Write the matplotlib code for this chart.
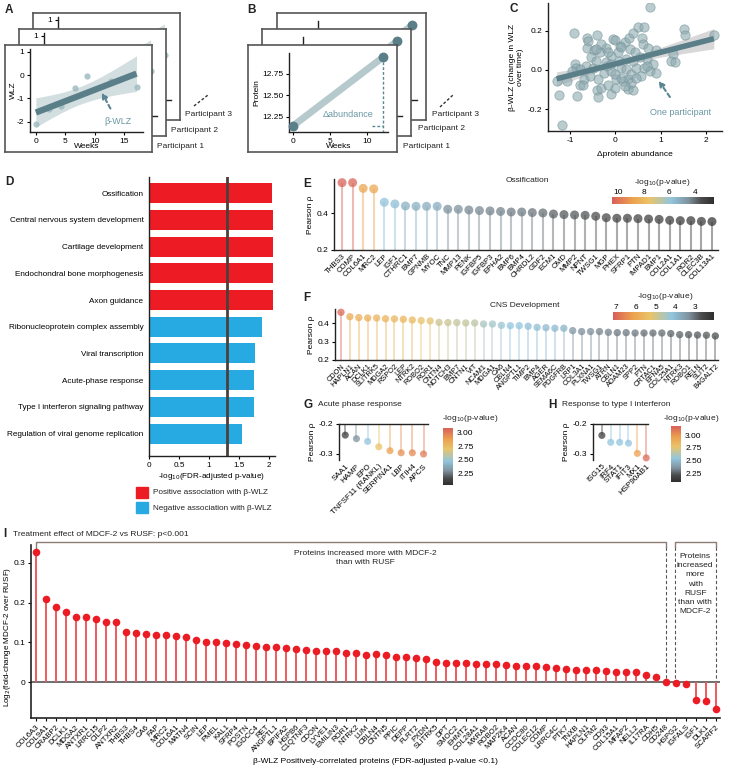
import numpy as np
import matplotlib
matplotlib.use('Agg')
import matplotlib.pyplot as plt
from matplotlib.colors import LinearSegmentedColormap, Normalize
from matplotlib.lines import Line2D
from matplotlib.patches import Rectangle
import matplotlib.cm as cm

plt.rcParams['font.family'] = ['Liberation Sans', 'DejaVu Sans']
plt.rcParams['axes.unicode_minus'] = False
plt.rcParams['font.size'] = 6
plt.rcParams['axes.linewidth'] = 1.0
plt.rcParams['axes.edgecolor'] = '#222222'
plt.rcParams['xtick.major.size'] = 2.5
plt.rcParams['ytick.major.size'] = 2.5
plt.rcParams['xtick.major.pad'] = 1.5
plt.rcParams['ytick.major.pad'] = 1.5
plt.rcParams['text.color'] = '#222222'

# ---------------- data ----------------
A_weeks = [0, 2.3, 4.3, 6.6, 8.7, 12.8, 17.1]
A_wlz = [-2.07, -1.45, -1.3, -0.57, -0.03, -0.25, -0.5]

B_weeks = [0, 12.2]
B_protein = [12.145, 12.945]

C_dprot = [0.77, -0.91, -0.41, -0.63, -0.60, -0.63, -0.47, -0.35, -0.20, -0.05,
           -0.01, 0.10, 0.21, 0.30, 0.40, 0.50, 0.63, 0.59, 0.61, 0.72,
           0.89, 1.53, 1.55, 2.18, 1.27, 1.24, 1.33, -1.30, -1.25, -1.17,
           -1.08, -0.90, -0.86, -0.85, -0.79, -0.70, -0.64, -0.53, -0.42, -0.38,
           -0.41, -0.38, -0.31, -0.26, -0.18, -0.09, -0.10, 0.00, 0.02, 0.08,
           0.13, 0.17, 0.24, 0.28, 0.27, 0.35, 0.40, 0.35, 0.46, 0.54,
           0.63, 0.69, 0.76, 0.91, 0.83, 0.06, -0.09, -0.16, 0.13, 0.32,
           0.43, -0.49, -0.57, -0.72, -0.79, -0.97, -0.21, -0.09, 0.13, 0.21,
           0.57, 0.69, -0.31, -0.42, 0.24, 0.39, -0.16, -0.01, 0.46]
C_bwlz = [0.32, 0.19, 0.18, 0.16, 0.145, 0.11, 0.10, 0.09, 0.11, 0.155,
          0.15, 0.124, 0.14, 0.16, 0.19, 0.22, 0.217, 0.16, 0.13, 0.11,
          0.10, 0.21, 0.18, 0.18, 0.08, 0.047, 0.038, -0.057, -0.126, -0.28,
          -0.057, 0.03, 0.012, -0.134, -0.074, -0.048, 0.02, 0.064, 0.047, -0.048,
          -0.10, -0.138, -0.091, -0.017, 0.02, -0.005, -0.12, -0.09, -0.045, 0.047,
          0.012, -0.057, 0.003, -0.048, -0.097, -0.022, -0.10, -0.066, 0.012, 0.064,
          0.012, 0.055, -0.005, -0.014, 0.03, 0.09, 0.072, 0.09, 0.115, 0.107,
          0.09, 0.012, -0.031, -0.074, 0.003, -0.005, 0.038, 0.03, -0.04, -0.083,
          -0.031, 0.02, 0.133, 0.107, 0.055, 0.047, -0.074, -0.022, -0.04]
C_fit_slope = 0.0586
C_fit_intercept = 0.031

D_terms = ['Ossification', 'Central nervous system development', 'Cartilage development',
           'Endochondral bone morphogenesis', 'Axon guidance',
           'Ribonucleoprotein complex assembly', 'Viral transcription',
           'Acute-phase response', 'Type I interferon signaling pathway',
           'Regulation of viral genome replication']
D_values = [2.055, 2.066, 2.066, 2.066, 2.066, 1.884, 1.768, 1.75, 1.746, 1.558]
D_positive = [True, True, True, True, True, False, False, False, False, False]
D_threshold = 1.301

E_genes = ['THBS3', 'COMP', 'COL6A1', 'MRC2', 'LEP', 'IGF1', 'CTHRC1', 'BMP7', 'GPNMB', 'MYOC',
           'TNC', 'MMP13', 'PENK', 'IGFBP5', 'IGFBP3', 'EPHA2', 'BMP6', 'BMP4', 'CHRDL2', 'GDF2',
           'ECM1', 'OMD', 'MMP2', 'NPNT', 'TWSG1', 'MGP', 'PHEX', 'SFRP1', 'PTN', 'IMPAD1',
           'BMP1', 'COL2A1', 'COL1A1', 'ROR2', 'CLEC3B', 'COL13A1']
E_rho = [0.567, 0.567, 0.536, 0.533, 0.460, 0.451, 0.440, 0.438, 0.438, 0.438,
         0.422, 0.422, 0.418, 0.415, 0.413, 0.410, 0.407, 0.407, 0.404, 0.402,
         0.396, 0.393, 0.391, 0.389, 0.384, 0.376, 0.373, 0.373, 0.371, 0.369,
         0.367, 0.362, 0.360, 0.360, 0.356, 0.355]
E_logp = [10.4, 10.3, 8.7, 8.6, 5.8, 5.7, 5.3, 5.3, 5.2, 5.2,
          4.5, 4.5, 4.4, 4.4, 4.3, 4.3, 4.2, 4.2, 4.1, 4.0,
          3.8, 3.7, 3.7, 3.6, 3.5, 3.4, 3.3, 3.3, 3.3, 3.2,
          3.2, 3.1, 3.0, 3.0, 3.0, 2.9]

F_genes = ['CDON', 'HAPLN1', 'ACAN', 'DCLK1', 'SLITRK5', 'MDGA2', 'RSPO2', 'LEP', 'NTRK2', 'ROBO2',
           'ROR1', 'CNTN4', 'NOTCH3', 'BMP7', 'CNTN1', 'VIT', 'NCAM1', 'MDGA1', 'CA6', 'CBLN4',
           'ANGPTL1', 'TIMP2', 'BMP4', 'AGER', 'SEMA6C', 'PDGFRB', 'LRP1', 'COL3A1', 'PLXNA1', 'TWSG1',
           'ATRN', 'CBLN1', 'ADAM23', 'SPP2', 'PTN', 'CRTAC1', 'EFNA5', 'COL25A1', 'NTRK3', 'ROBO1',
           'RELN', 'SLIT2', 'B4GALT2']
F_rho = [0.460, 0.436, 0.431, 0.429, 0.429, 0.425, 0.424, 0.422, 0.418, 0.415,
         0.413, 0.405, 0.404, 0.404, 0.402, 0.402, 0.396, 0.396, 0.389, 0.387,
         0.387, 0.384, 0.378, 0.376, 0.373, 0.373, 0.360, 0.355, 0.355, 0.355,
         0.351, 0.349, 0.349, 0.347, 0.347, 0.347, 0.347, 0.344, 0.338, 0.338,
         0.336, 0.335, 0.331]
F_logp = [7.0, 5.9, 5.8, 5.8, 5.7, 5.7, 5.6, 5.6, 5.5, 5.3,
          5.2, 4.9, 4.9, 4.8, 4.8, 4.7, 4.5, 4.4, 4.3, 4.2,
          4.2, 4.1, 4.1, 4.0, 4.0, 3.9, 3.4, 3.3, 3.3, 3.2,
          3.2, 3.1, 3.1, 3.1, 3.0, 3.0, 3.0, 2.9, 2.9, 2.8,
          2.8, 2.8, 2.7]

G_genes = ['SAA1', 'HAMP', 'EPO', 'TNFSF11 (RANKL)', 'SERPINA1', 'LBP', 'ITIH4', 'APCS']
G_rho = [-0.237, -0.249, -0.258, -0.276, -0.289, -0.296, -0.296, -0.300]
G_logp = [2.10, 2.30, 2.47, 2.70, 2.88, 2.93, 2.95, 3.00]

H_genes = ['ISG15', 'IRF4', 'STAT1', 'IFIT3', 'MX1', 'HSP90AB1']
H_rho = [-0.238, -0.261, -0.261, -0.264, -0.298, -0.313]
H_logp = [2.15, 2.54, 2.54, 2.54, 2.97, 3.15]

I_genes = ['COL6A3', 'COL9A1', 'CRABP2', 'DCLK1', 'MDGA2', 'ANTXR1', 'LRRC15', 'CILP2', 'ANTXR2', 'THBS3',
           'THBS4', 'CA6', 'FAP', 'MRC2', 'COL6A1', 'MATN4', 'SCIN', 'LEP', 'PMEL', 'KAL1',
           'SFRP4', 'POSTN', 'IGDCC4', 'RET', 'ANGPTL1', 'BPIFA2', 'HSPB6', 'C1QTNF3', 'CDON', 'LYVE1',
           'EMILIN3', 'ROR1', 'NTRK2', 'LUM', 'CBLN4', 'CNTN5', 'PPIC', 'DEPP', 'FLRT2', 'PXDN',
           'SLITRK5', 'DPT', 'SMOC2', 'EHMT2', 'COL28A1', 'MXRA8', 'ROBO2', 'MAP2K4', 'ACAN', 'CCDC80',
           'COLEC12', 'COMP', 'LRRC4C', 'PTK7', 'TNXB', 'HAPLN1', 'OLFM2', 'CD93', 'COL15A1', 'MFAP2',
           'NELL2', 'IL17RA', 'CDH5', 'CD248', 'HSPG2', 'IGFALS', 'IGF1', 'DLK1', 'SCARF2']
I_lfc = [0.326, 0.208, 0.189, 0.177, 0.165, 0.164, 0.159, 0.152, 0.152, 0.125,
         0.124, 0.120, 0.118, 0.118, 0.115, 0.113, 0.105, 0.101, 0.100, 0.099,
         0.097, 0.094, 0.091, 0.089, 0.088, 0.086, 0.083, 0.080, 0.079, 0.078,
         0.078, 0.074, 0.074, 0.069, 0.070, 0.068, 0.063, 0.063, 0.062, 0.058,
         0.050, 0.048, 0.048, 0.048, 0.047, 0.046, 0.046, 0.043, 0.042, 0.041,
         0.040, 0.038, 0.036, 0.034, 0.032, 0.032, 0.030, 0.029, 0.026, 0.026,
         0.026, 0.018, 0.013, 0.002, -0.002, -0.005, -0.044, -0.047, -0.066]
I_n_mdcf = 64  # first group: proteins increased more with MDCF-2

# ---------------- figure helpers ----------------
W, H = 739, 768
fig = plt.figure(figsize=(W / 100, H / 100), dpi=100)


def pax(x0, y0, x1, y1, **kw):
    return fig.add_axes([x0 / W, 1 - y1 / H, (x1 - x0) / W, (y1 - y0) / H], **kw)


def ftext(x, y, s, **kw):
    kw.setdefault('va', 'center')
    return fig.text(x / W, 1 - y / H, s, **kw)


def fline(x0, y0, x1, y1, **kw):
    fig.add_artist(Line2D([x0 / W, x1 / W], [1 - y0 / H, 1 - y1 / H], transform=fig.transFigure, **kw))


def clean(ax, left=True, bottom=True, top=False, right=False):
    ax.spines['left'].set_visible(left)
    ax.spines['bottom'].set_visible(bottom)
    ax.spines['top'].set_visible(top)
    ax.spines['right'].set_visible(right)


TEAL = '#5a7f89'
TEAL_TXT = '#6a97a3'
LETTER = dict(fontsize=8.5, fontweight='bold')

cmap = LinearSegmentedColormap.from_list('pv', [(0, '#2f2f2f'), (0.12, '#4a4a4a'), (0.25, '#7f929e'),
                                                (0.42, '#92c5de'), (0.63, '#e9c46a'), (0.8, '#eca24f'),
                                                (1.0, '#d95f5a')])


def frame(x0, y0, x1, y1):
    f = pax(x0, y0, x1, y1)
    f.set_xticks([])
    f.set_yticks([])
    f.set_facecolor('white')
    for sp in f.spines.values():
        sp.set_color('#555555')
        sp.set_linewidth(1.2)
    return f


# ---------------- Panel A ----------------
def draw_A(ax, annotate):
    xw = np.asarray(A_weeks)
    yw = np.asarray(A_wlz)
    slope, icpt = np.polyfit(xw, yw, 1)
    xs = np.linspace(xw.min(), xw.max(), 60)
    yfit = slope * xs + icpt
    resid = yw - (slope * xw + icpt)
    s = np.sqrt(np.sum(resid ** 2) / (len(xw) - 2))
    sxx = np.sum((xw - xw.mean()) ** 2)
    hw = 2.0 * s * np.sqrt(1 / len(xw) + (xs - xw.mean()) ** 2 / sxx)
    ax.fill_between(xs, yfit - hw, yfit + hw, color='#d3dee1', lw=0, zorder=1)
    ax.scatter(xw, yw, s=20, color='#9fbcc0', alpha=0.85, lw=0, zorder=3)
    ax.plot(xs, yfit, color=TEAL, lw=4.5, solid_capstyle='butt', zorder=4)
    ax.set_xlim(-1.0, 18.2)
    ax.set_ylim(-2.43, 1.11)
    ax.set_xticks([0, 5, 10, 15])
    ax.set_yticks([-2, -1, 0, 1])
    ax.set_facecolor('none')
    clean(ax)
    ax.set_xlabel('Weeks', labelpad=-1, fontsize=6)
    ax.set_ylabel('WLZ', labelpad=0, fontsize=6)
    ax.tick_params(labelsize=6)
    if annotate:
        ax.annotate('β-WLZ', xy=(11.2, -0.75), xytext=(13.9, -2.0), ha='center', va='center',
                    color=TEAL_TXT, fontsize=6.5,
                    arrowprops=dict(arrowstyle='-|>', ls=(0, (2, 1.5)), color='#5a8592', lw=1.5,
                                    shrinkA=5, shrinkB=0, mutation_scale=8))


for k in (2, 1, 0):
    dx, dy = 14 * k, -16 * k
    frame(5 + dx, 45 + dy, 152 + dx, 152 + dy)
    ai = pax(30 + dx, 49 + dy, 143 + dx, 132 + dy)
    draw_A(ai, annotate=(k == 0))

ftext(5, 10, 'A', **LETTER)
ftext(157, 146, 'Participant 1', fontsize=6)
ftext(171, 130, 'Participant 2', fontsize=6)
ftext(185, 115, 'Participant 3', fontsize=6)
fline(194, 106, 208, 95, color='#333333', lw=1, ls=(0, (2, 1.5)))

# ---------------- Panel B ----------------
def draw_B(ax, annotate):
    ax.plot(B_weeks, B_protein, color='#b6cacd', lw=5, solid_capstyle='butt', zorder=2)
    ax.scatter(B_weeks, B_protein, s=50, color=TEAL, lw=0, zorder=4, clip_on=False)
    ax.set_xlim(-0.59, 12.9)
    ax.set_ylim(12.07, 12.996)
    ax.set_xticks([0, 5, 10])
    ax.set_yticks([12.25, 12.5, 12.75])
    ax.set_yticklabels(['12.25', '12.50', '12.75'])
    ax.set_facecolor('none')
    clean(ax)
    ax.set_xlabel('Weeks', labelpad=-1, fontsize=6)
    ax.set_ylabel('Protein', labelpad=1, fontsize=6)
    ax.tick_params(labelsize=6)
    if annotate:
        ax.plot([B_weeks[1], B_weeks[1]], [B_protein[1], 12.07], ls=(0, (2, 1.5)), color='#5a8592', lw=1, zorder=3)
        ax.plot([10.7, B_weeks[1]], [B_protein[0], B_protein[0]], ls=(0, (2, 1.5)), color='#5a8592', lw=1, zorder=3)
        ax.text(7.5, 12.27, 'Δabundance', ha='center', va='center', color=TEAL_TXT, fontsize=6.5)


for k in (2, 1, 0):
    dx, dy = int(14.5 * k), -16 * k
    frame(248 + dx, 45 + dy, 397 + dx, 152 + dy)
    bi = pax(289 + dx, 53 + dy, 388 + dx, 132 + dy)
    draw_B(bi, annotate=(k == 0))

ftext(247, 10, 'B', **LETTER)
ftext(403, 146, 'Participant 1', fontsize=6)
ftext(418, 129, 'Participant 2', fontsize=6)
ftext(432, 115, 'Participant 3', fontsize=6)
fline(440, 107, 453, 95, color='#333333', lw=1, ls=(0, (2, 1.5)))

# ---------------- Panel C ----------------
axC = pax(548, 3, 722, 131)
xs = np.linspace(min(C_dprot), max(C_dprot), 80)
yfit = C_fit_slope * xs + C_fit_intercept
hw = np.sqrt(0.012 ** 2 + (0.024 * (xs - 0.1)) ** 2)
axC.fill_between(xs, yfit - hw, yfit + hw, color='#cfcfcf', alpha=0.8, lw=0, zorder=1)
axC.scatter(C_dprot, C_bwlz, s=45, color='#8eaab0', alpha=0.6, edgecolor='#6f8f96', lw=0.6, zorder=2)
axC.plot(xs, yfit, color=TEAL, lw=4, solid_capstyle='butt', zorder=3)
axC.annotate('One participant', xy=(0.96, -0.055), xytext=(1.44, -0.215), ha='center', va='center',
             color=TEAL_TXT, fontsize=6.5,
             arrowprops=dict(arrowstyle='-|>', ls=(0, (2, 1.5)), color='#5a8592', lw=1.5,
                             shrinkA=7, shrinkB=0, mutation_scale=8))
axC.set_xlim(-1.49, 2.36)
axC.set_ylim(-0.31, 0.34)
axC.set_xticks([-1, 0, 1, 2])
axC.set_yticks([-0.2, 0.0, 0.2])
axC.set_yticklabels(['-0.2', '0.0', '0.2'])
clean(axC)
axC.tick_params(labelsize=6)
axC.set_xlabel('Δprotein abundance', fontsize=6, labelpad=5)
axC.set_ylabel('β-WLZ (change in WLZ\nover time)', fontsize=6, labelpad=3)
ftext(509, 9, 'C', **LETTER)

# ---------------- Panel D ----------------
axD = pax(149, 177, 275, 456)
yD = np.arange(len(D_terms))
colD = ['#ed1c24' if p else '#27aae1' for p in D_positive]
axD.barh(yD, D_values, height=0.75, color=colD, zorder=2)
axD.axvline(D_threshold, color='#4a3f3a', lw=2, zorder=3)
axD.set_ylim(len(D_terms) - 1 + 0.84, -0.61)
axD.set_xlim(0, 2.1)
axD.set_yticks(yD)
axD.set_yticklabels(D_terms, fontsize=5.9)
axD.tick_params(axis='y', length=0, pad=4)
axD.set_xticks([0, 0.5, 1, 1.5, 2])
axD.set_xticklabels(['0', '0.5', '1', '1.5', '2'])
axD.tick_params(axis='x', labelsize=5.9)
clean(axD)
axD.set_xlabel('-log$_{10}$(FDR-adjusted p-value)', fontsize=5.9, labelpad=2)
ftext(5, 182, 'D', **LETTER)
fig.add_artist(Rectangle((136 / W, 1 - 498 / H), 12 / W, 11 / H, transform=fig.transFigure,
                         color='#ed1c24'))
fig.add_artist(Rectangle((136 / W, 1 - 513 / H), 12 / W, 11 / H, transform=fig.transFigure,
                         color='#27aae1'))
ftext(153, 493, 'Positive association with β-WLZ', fontsize=5.9)
ftext(153, 508, 'Negative association with β-WLZ', fontsize=5.9)


# ---------------- lollipop helper ----------------
def lollipop(ax, names, vals, logp, vmin, vmax, base, s, lw, fs=5.6):
    norm = Normalize(vmin, vmax)
    cols = cmap(norm(np.asarray(logp)))
    x = np.arange(len(names))
    ax.vlines(x, base, vals, colors=cols, alpha=0.45, lw=lw, zorder=2)
    ax.scatter(x, vals, s=s, c=cols, alpha=0.75, lw=0, zorder=3, clip_on=False)
    ax.set_xticks(x)
    ax.set_xticklabels(names, rotation=45, ha='right', rotation_mode='anchor', fontsize=fs)
    ax.tick_params(axis='x', length=0, pad=2)
    return norm


def hcbar(x0, y0, x1, y1, vmin, vmax, ticks):
    cax = pax(x0, y0, x1, y1)
    sm = cm.ScalarMappable(norm=Normalize(vmin, vmax), cmap=cmap)
    cb = fig.colorbar(sm, cax=cax, orientation='horizontal')
    cb.outline.set_visible(False)
    cb.set_ticks(ticks)
    cb.set_ticklabels([str(t) for t in ticks])
    cax.invert_xaxis()
    cax.xaxis.set_ticks_position('top')
    cax.tick_params(length=0, pad=1, labelsize=6)


def vcbar(x0, y0, x1, y1, vmin, vmax):
    cax = pax(x0, y0, x1, y1)
    sm = cm.ScalarMappable(norm=Normalize(vmin, vmax), cmap=cmap)
    cb = fig.colorbar(sm, cax=cax, orientation='vertical')
    cb.outline.set_visible(False)
    cb.set_ticks([2.25, 2.5, 2.75, 3.0])
    cb.set_ticklabels(['2.25', '2.50', '2.75', '3.00'])
    cax.tick_params(length=0, pad=3, labelsize=6)


# ---------------- Panel E ----------------
axE = pax(334, 179, 718, 250)
lollipop(axE, E_genes, E_rho, E_logp, 2.5, 10.5, 0.2, 42, 1.5)
axE.set_xlim(-0.76, len(E_genes) - 0.43)
axE.set_ylim(0.2, 0.587)
axE.set_yticks([0.2, 0.4])
clean(axE)
axE.tick_params(axis='y', labelsize=6)
axE.set_ylabel('Pearson ρ', fontsize=6, labelpad=2)
ftext(527, 181, 'Ossification', fontsize=6, ha='center')
hcbar(612, 197, 714, 204, 2.5, 10.5, [10, 8, 6, 4])
ftext(662, 183, '-log$_{10}$(p-value)', fontsize=6, ha='center')
ftext(303, 184, 'E', **LETTER)

# ---------------- Panel F ----------------
axF = pax(335, 309, 718, 360)
lollipop(axF, F_genes, F_rho, F_logp, 2.05, 7.15, 0.2, 28, 1.3, fs=5.3)
axF.set_xlim(-0.67, len(F_genes) - 0.7)
axF.set_ylim(0.2, 0.478)
axF.set_yticks([0.2, 0.3, 0.4])
clean(axF)
axF.tick_params(axis='y', labelsize=6)
axF.set_ylabel('Pearson ρ', fontsize=6, labelpad=2)
ftext(525, 305, 'CNS Development', fontsize=6, ha='center')
hcbar(613, 312, 714, 320, 2.05, 7.15, [7, 6, 5, 4, 3])
ftext(665, 297, '-log$_{10}$(p-value)', fontsize=6, ha='center')
ftext(303, 298, 'F', **LETTER)

# ---------------- Panel G ----------------
axG = pax(339, 424, 428, 460)
lollipop(axG, G_genes, G_rho, G_logp, 2.03, 3.09, -0.2, 26, 1.3, fs=5.8)
axG.set_xlim(-0.56, len(G_genes) - 0.6)
axG.set_ylim(-0.32, -0.2)
axG.set_yticks([-0.3, -0.2])
axG.set_yticklabels(['-0.3', '-0.2'])
clean(axG, left=True, bottom=False, top=True)
axG.tick_params(axis='y', labelsize=6)
axG.set_ylabel('Pearson ρ', fontsize=6, labelpad=2)
vcbar(443, 428, 453, 485, 2.03, 3.09)
ftext(442, 419, '-log$_{10}$(p-value)', fontsize=6)
ftext(303, 405, 'G', **LETTER)
ftext(318, 405, 'Acute phase response', fontsize=6)

# ---------------- Panel H ----------------
axH = pax(593, 424, 648, 460)
lollipop(axH, H_genes, H_rho, H_logp, 2.07, 3.19, -0.2, 26, 1.3, fs=5.8)
axH.set_xlim(-1.0, len(H_genes) - 0.8)
axH.set_ylim(-0.32, -0.2)
axH.set_yticks([-0.3, -0.2])
axH.set_yticklabels(['-0.3', '-0.2'])
clean(axH, left=True, bottom=False, top=True)
axH.tick_params(axis='y', labelsize=6)
axH.set_ylabel('Pearson ρ', fontsize=6, labelpad=2)
vcbar(671, 426, 681, 482, 2.07, 3.19)
ftext(663, 418, '-log$_{10}$(p-value)', fontsize=6)
ftext(548, 405, 'H', **LETTER)
ftext(562, 405, 'Response to type I interferon', fontsize=6)

# ---------------- Panel I ----------------
axI = pax(31, 545, 720, 718)
xI = np.arange(len(I_genes))
axI.axhline(0, color='#555555', lw=1.2, zorder=1)
axI.vlines(xI, 0, I_lfc, colors='#f05a5e', lw=1.4, zorder=2)
axI.scatter(xI, I_lfc, s=30, color='#ec1c24', lw=0, zorder=3)
axI.set_xlim(-0.47, len(I_genes) - 0.57)
axI.set_ylim(-0.089, 0.344)
axI.set_yticks([0, 0.1, 0.2, 0.3])
axI.set_yticklabels(['0', '0.1', '0.2', '0.3'])
axI.set_xticks(xI)
axI.set_xticklabels(I_genes, rotation=45, ha='right', rotation_mode='anchor', fontsize=5.6)
axI.tick_params(axis='x', length=2.5, pad=1.5)
axI.tick_params(axis='y', labelsize=6)
clean(axI)
axI.spines['bottom'].set_linewidth(1.2)
axI.spines['left'].set_linewidth(1.2)
axI.set_ylabel('Log$_2$(fold-change MDCF-2 over RUSF)', fontsize=5.8, labelpad=2)
axI.yaxis.set_label_coords(-0.026, 0.47)
axI.set_xlabel('β-WLZ Positively-correlated proteins (FDR-adjusted p-value <0.1)', fontsize=6, labelpad=3)

brk = '#8c7b74'
ytop, yend = 0.351, 0.340
g1_end = I_n_mdcf - 1
g2_start = I_n_mdcf - 0.1
g2_end = len(I_genes) - 1
axI.plot([0, 0, g1_end, g1_end], [0.335, ytop, ytop, yend], color=brk, lw=1, clip_on=False)
axI.plot([g2_start, g2_start, g2_end, g2_end], [yend, ytop, ytop, yend], color=brk, lw=1, clip_on=False)
for xv in (g1_end, g2_start, g2_end):
    axI.plot([xv, xv], [yend, 0.004], color='#555555', lw=0.8, ls=(0, (3, 2)), zorder=1)
axI.text(33, 0.311, 'Proteins increased more with MDCF-2\nthan with RUSF', ha='center', va='center',
         fontsize=6, linespacing=1.45)
axI.text((g2_start + g2_end) / 2, 0.246, 'Proteins\nincreased\nmore\nwith\nRUSF\nthan with\nMDCF-2',
         ha='center', va='center', fontsize=6, linespacing=1.45,
         bbox=dict(facecolor='white', edgecolor='none', pad=0.5))
ftext(3, 534, 'I', **LETTER)
ftext(13, 534, 'Treatment effect of MDCF-2 vs RUSF: p<0.001', fontsize=6)

fig.savefig('out.png', dpi=100)
